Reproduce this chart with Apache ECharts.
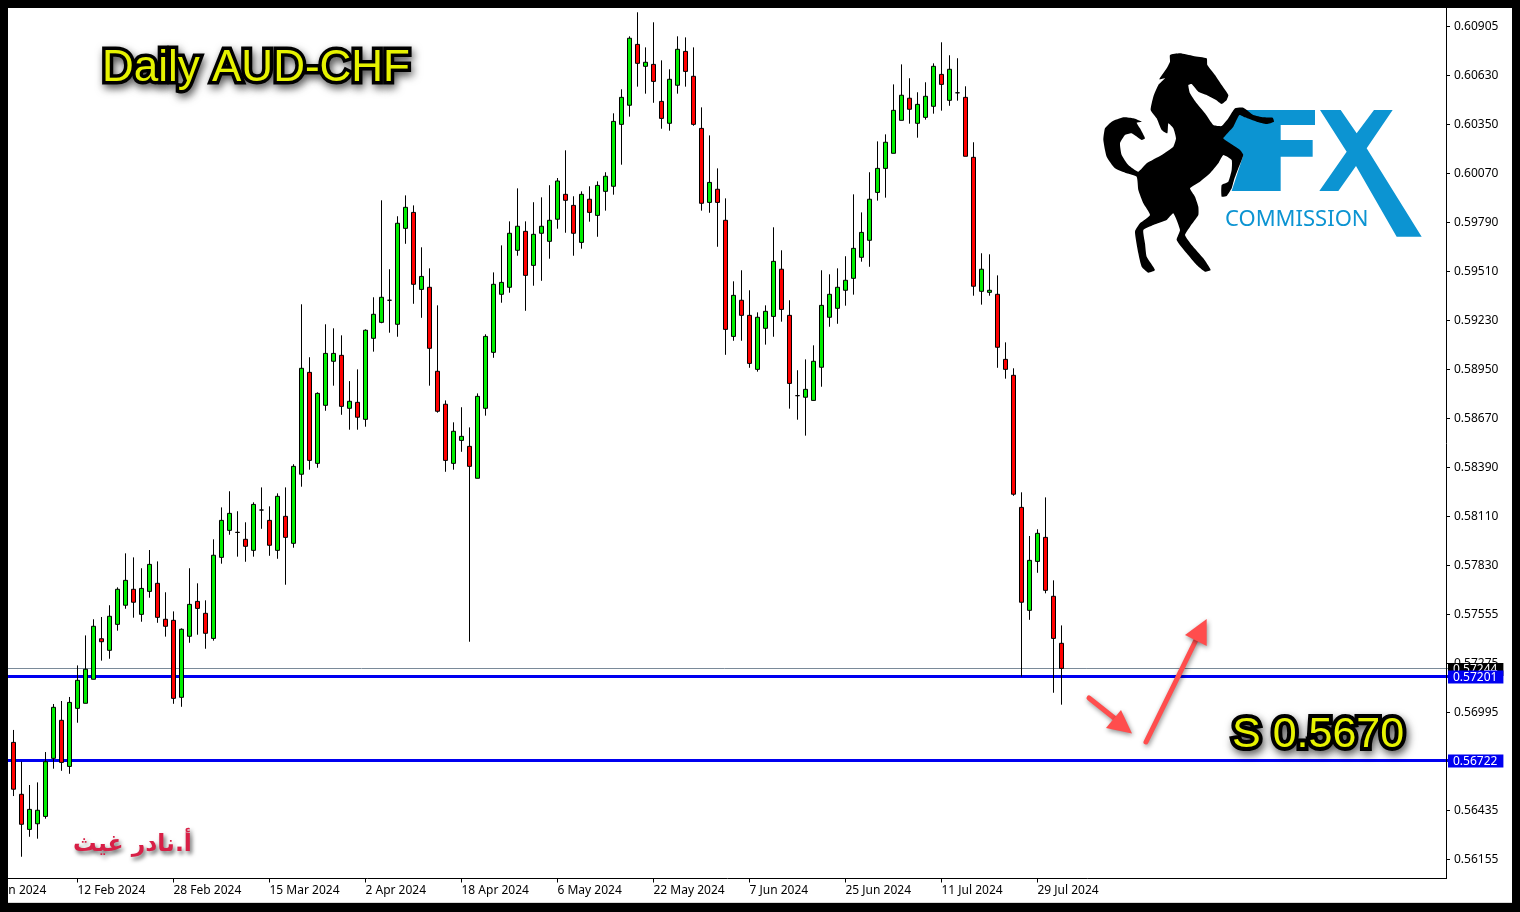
<!DOCTYPE html>
<html><head><meta charset="utf-8"><style>html,body{margin:0;padding:0;background:#fff}#c{width:1520px;height:912px}</style>
<script src="https://cdn.jsdelivr.net/npm/echarts@6/dist/echarts.min.js"></script></head><body><div id="c"></div>
<script>
const dateLabels=['25 Jan 2024','12 Feb 2024','28 Feb 2024','15 Mar 2024','2 Apr 2024','18 Apr 2024','6 May 2024','22 May 2024','7 Jun 2024','25 Jun 2024','11 Jul 2024','29 Jul 2024'];
const priceLabels=['0.60905','0.60630','0.60350','0.60070','0.59790','0.59510','0.59230','0.58950','0.58670','0.58390','0.58110','0.57830','0.57555','0.57275','0.56995','0.56715','0.56435','0.56155'];
const opens=[56823,56527,56327,56359,56401,56732,56949,56686,57017,57046,57183,57414,57348,57496,57605,57696,57553,57684,57730,57525,57519,57080,57428,57627,57559,57416,57878,58032,58021,57981,57918,58148,58089,57918,58112,57958,58352,58933,58414,58745,58996,59030,58728,58762,58665,59127,59218,59344,59207,59754,59845,59406,59418,58939,58751,58414,58545,58511,58329,58728,59047,59378,59418,59629,59737,59543,59726,59680,59806,59948,59885,59674,59920,59828,59965,59994,60347,60456,60803,60678,60689,60478,60353,60570,60763,60621,60324,59902,59977,59800,59138,59344,59258,58950,59184,59252,59521,59258,58800,58791,58773,58962,59247,59298,59401,59469,59589,59686,59959,60096,60182,60370,60496,60353,60387,60450,60632,60484,60527,60501,60159,59395,59389,59378,59007,58916,58163,57576,57855,57992,57656,57388];
const closes=[56556,56356,56441,56436,56713,57023,56709,57051,57177,57240,57485,57397,57542,57696,57747,57622,57701,57838,57536,57485,57074,57468,57610,57587,57445,57890,58089,58129,58020,57941,58180,58148,57947,58226,57992,58397,58956,58431,58813,59041,59041,58739,58768,58677,59173,59264,59361,59344,59783,59874,59435,59480,59070,58711,58431,58597,58568,58397,58796,59138,59435,59446,59726,59766,59486,59720,59766,59800,60024,59914,59726,59948,59845,59999,60051,60364,60501,60838,60695,60701,60592,60381,60604,60775,60649,60347,59897,60016,59902,59178,59372,59258,58984,59247,59281,59566,59292,58870,58800,58836,58996,59315,59378,59418,59458,59640,59731,59920,60096,60245,60427,60513,60433,60461,60507,60678,60575,60661,60527,60165,59424,59521,59401,59076,58950,58238,57622,57861,58015,57690,57416,57245];
const highs=[56894,56713,56580,56595,56768,57042,57059,57082,57262,57433,57525,57538,57605,57707,57901,57878,57816,57920,57855,57679,57570,57473,57816,57730,57633,57981,58163,58255,58141,58078,58192,58277,58169,58243,58277,58409,59321,59019,58819,59207,59184,59144,58883,58950,59178,59361,59914,59521,59823,59942,59885,59646,59526,59315,58773,58648,58734,58619,58813,59150,59503,59657,59794,59982,59794,59903,59931,60000,60041,60199,59937,59965,59994,60022,60074,60410,60547,60849,60986,60786,60929,60712,60661,60849,60843,60786,60444,60284,60096,59925,59452,59515,59401,59275,59315,59760,59629,59344,58945,59007,59087,59515,59492,59526,59595,59948,59845,60074,60250,60290,60575,60689,60610,60530,60587,60695,60815,60741,60724,60564,60245,59612,59606,59486,59104,58956,58249,58000,58038,58220,57747,57490];
const lows=[56517,56171,56285,56274,56388,56673,56661,56644,56935,57046,57183,57289,57300,57460,57585,57534,57511,57648,57505,57426,57043,57026,57391,57437,57357,57403,57842,58007,57882,57853,57882,58041,57887,57870,57722,57933,58281,58378,58389,58714,58857,58691,58606,58606,58623,59051,59213,59159,59136,59666,59324,59244,58857,58703,58366,58378,58480,57397,58329,58686,59016,59330,59387,59598,59284,59427,59455,59581,59752,59729,59598,59638,59792,59706,59855,59946,60117,60391,60562,60522,60470,60322,60311,60522,60562,60339,59855,59843,59649,59033,59113,59113,58959,58937,59091,59136,59222,58726,58663,58572,58771,58851,59193,59210,59313,59376,59564,59535,59912,59929,60182,60370,60351,60271,60374,60408,60425,60453,60482,60165,59370,59319,59370,58959,58897,58229,57198,57522,57790,57673,57106,57038];
const levelLines=[0.57244,0.57201,0.56722];
const levelColors=['#000000','#0000f0','#0000f0'];
const SCALE=1e5, PAD=4, TOTAL=184, TOP_PRICE=0.60905, TICK_STEP=0.0027941;
const categories=Array.from({length:TOTAL},(_,i)=>i%12===0&&dateLabels[i/12]?dateLabels[i/12]:'');
const candles=categories.map((_,i)=>{const k=i-PAD;return k>=0&&k<opens.length?[opens[k]/SCALE,closes[k]/SCALE,lows[k]/SCALE,highs[k]/SCALE]:'-';});
const tickValues=priceLabels.map((_,i)=>+(TOP_PRICE-i*TICK_STEP).toFixed(6));
const labelled=i=>i%12===0&&!!dateLabels[i/12];
const z=[[240,45],[270,40],[310,48],[350,55],[352,75],[375,105],[395,135],[415,165],[410,180],[395,192],[378,180],[350,165],[325,155],[305,132],[295,135],[300,160],[320,190],[345,220],[370,255],[395,258],[415,235],[435,205],[460,203],[490,225],[520,232],[548,233],[552,245],[530,252],[500,245],[465,232],[448,225],[430,260],[400,295],[420,310],[450,330],[460,345],[445,385],[432,420],[425,445],[410,468],[395,470],[395,435],[415,425],[425,390],[425,360],[400,345],[385,370],[360,400],[330,425],[300,445],[315,470],[325,500],[325,525],[300,560],[285,585],[305,615],[340,655],[362,690],[345,695],[320,675],[290,640],[260,600],[270,570],[250,520],[230,540],[190,555],[160,570],[165,610],[170,650],[195,690],[175,698],[155,680],[145,640],[135,575],[150,550],[180,525],[160,490],[145,450],[140,410],[110,400],[75,385],[50,350],[40,300],[45,265],[65,245],[100,232],[130,235],[155,245],[140,248],[150,265],[165,295],[155,300],[125,280],[105,285],[90,310],[95,345],[115,375],[145,395],[170,370],[215,345],[250,320],[258,295],[250,265],[235,250],[232,280],[215,270],[200,235],[182,210],[190,170],[205,135],[225,115],[208,118],[230,85],[240,65]];
const lp=a=>a.map(p=>[1090+p[0]/3,40+p[1]/3]);
const LOGO='#0c94d2';
const fPts=[[440,210],[675,210],[675,255],[572,255],[572,300],[668,300],[668,350],[572,350],[572,453],[425,453],[460,345],[397,300]];
const xPts=[[690,210],[752,210],[800,280],[852,210],[908,210],[830,325],[995,590],[920,590],[798,378],[745,453],[688,453],[770,335]];
const RED='#ff4d4d';
const arrowShadow={shadowBlur:5,shadowColor:'rgba(0,0,0,.45)',shadowOffsetX:1,shadowOffsetY:2};
function frame(x,y,w,h,c){return {type:'rect',z:100,silent:true,shape:{x,y,width:w,height:h},style:{fill:c||'#000'}};}
function stroked(text,x,y,size,fill,stroke,lw,family,weight){return {type:'text',z:50,silent:true,x,y,style:{text,fill,stroke,lineWidth:lw,lineJoin:'round',font:(weight||'normal')+' '+size+'px '+family,textVerticalAlign:'middle',textAlign:'left',textShadowBlur:8,textShadowColor:'rgba(0,0,0,.55)',textShadowOffsetX:2,textShadowOffsetY:4}};}
const chart=echarts.init(document.getElementById('c'),null,{renderer:'canvas'});
chart.setOption({
 animation:false,backgroundColor:'#fff',
 grid:{left:-22.5,right:70.5,top:8,bottom:33.5,containLabel:false,outerBoundsMode:'none'},
 xAxis:{type:'category',data:categories,boundaryGap:true,
  axisLine:{show:false},
  axisTick:{show:true,interval:labelled,alignWithLabel:true,length:4,lineStyle:{color:'#000',width:1}},
  axisLabel:{show:true,interval:labelled,align:'left',margin:6,hideOverlap:false,color:'#000',fontFamily:'Noto Sans',fontSize:12,padding:[0,1,0,0]},
  splitLine:{show:false}},
 yAxis:{type:'value',position:'right',offset:-3.5,min:0.560469,max:0.610105,
  axisLine:{show:false},
  axisTick:{show:true,length:4,lineStyle:{color:'#000'},customValues:tickValues},
  axisLabel:{show:true,margin:8,padding:[2,0,0,0],color:'#000',fontFamily:'Noto Sans',fontSize:12,customValues:tickValues,hideOverlap:false,
   formatter:v=>priceLabels[Math.round((TOP_PRICE-v)/TICK_STEP)]},
  splitLine:{show:false}},
 series:[{type:'candlestick',data:candles,barWidth:5,
  itemStyle:{color:'#00ee00',color0:'#ff0000',borderColor:'#000',borderColor0:'#000',borderWidth:1},
  markLine:{silent:true,z:1,symbol:'none',animation:false,precision:5,
   data:levelLines.map((v,i)=>({yAxis:v,
     lineStyle:{color:i?levelColors[i]:'#7a8a99',width:i?3:1,type:'solid'},
     label:{show:true,position:'end',distance:-1.5,offset:[0,1],formatter:()=>v.toFixed(5),color:'#fff',backgroundColor:levelColors[i],padding:[0,6,0,5],lineHeight:13,fontSize:12,fontFamily:'Noto Sans',align:'left'}}))}
 }],
 graphic:{elements:[
  {type:'line',z:40,silent:true,shape:{x1:8,y1:878.5,x2:1447,y2:878.5},style:{stroke:'#000',lineWidth:1}},
  {type:'line',z:40,silent:true,shape:{x1:1446.5,y1:8,x2:1446.5,y2:879},style:{stroke:'#000',lineWidth:1}},
  {type:'polygon',z:20,silent:true,shape:{points:lp(fPts)},style:{fill:LOGO}},
  {type:'polygon',z:20,silent:true,shape:{points:lp(xPts)},style:{fill:LOGO}},
  {type:'polygon',z:21,silent:true,shape:{points:lp(z),smooth:0.15},style:{fill:'#000'}},
  {type:'text',z:21,silent:true,x:1225,y:220,style:{text:'COMMISSION',fill:LOGO,font:"22px 'Noto Sans'",textVerticalAlign:'middle'}},
  stroked('Daily AUD-CHF',102,69,44,'#e6f200','#000',7,"'Liberation Sans'"),
  stroked('S 0.5670',1232,735,43,'#e6f200','#000',8,"'Liberation Sans'"),
  {type:'text',z:50,silent:true,x:73,y:845,style:{text:'أ.نادر غيث',fill:'#d81f46',font:"bold 23.5px 'DejaVu Sans'",textVerticalAlign:'middle',textShadowBlur:4,textShadowColor:'rgba(0,0,0,.6)',textShadowOffsetX:2,textShadowOffsetY:3}},
  {type:'line',z:30,silent:true,shape:{x1:1146,y1:742,x2:1197,y2:638},style:{stroke:RED,lineWidth:5,lineCap:'round',...arrowShadow}},
  {type:'polygon',z:31,silent:true,shape:{points:[[1206.7,619],[1185,635],[1206.7,646]]},style:{fill:RED,...arrowShadow}},
  {type:'line',z:30,silent:true,shape:{x1:1089,y1:698,x2:1118,y2:721},style:{stroke:RED,lineWidth:5,lineCap:'round',...arrowShadow}},
  {type:'polygon',z:31,silent:true,shape:{points:[[1132,733.5],[1121,710],[1106,728]]},style:{fill:RED,...arrowShadow}},
  frame(0,0,1520,8),frame(0,0,8,912),frame(1512,0,8,912),frame(0,903,1520,9),frame(8,902,1504,1,'#d8d8d8')
 ]}
});
</script></body></html>
